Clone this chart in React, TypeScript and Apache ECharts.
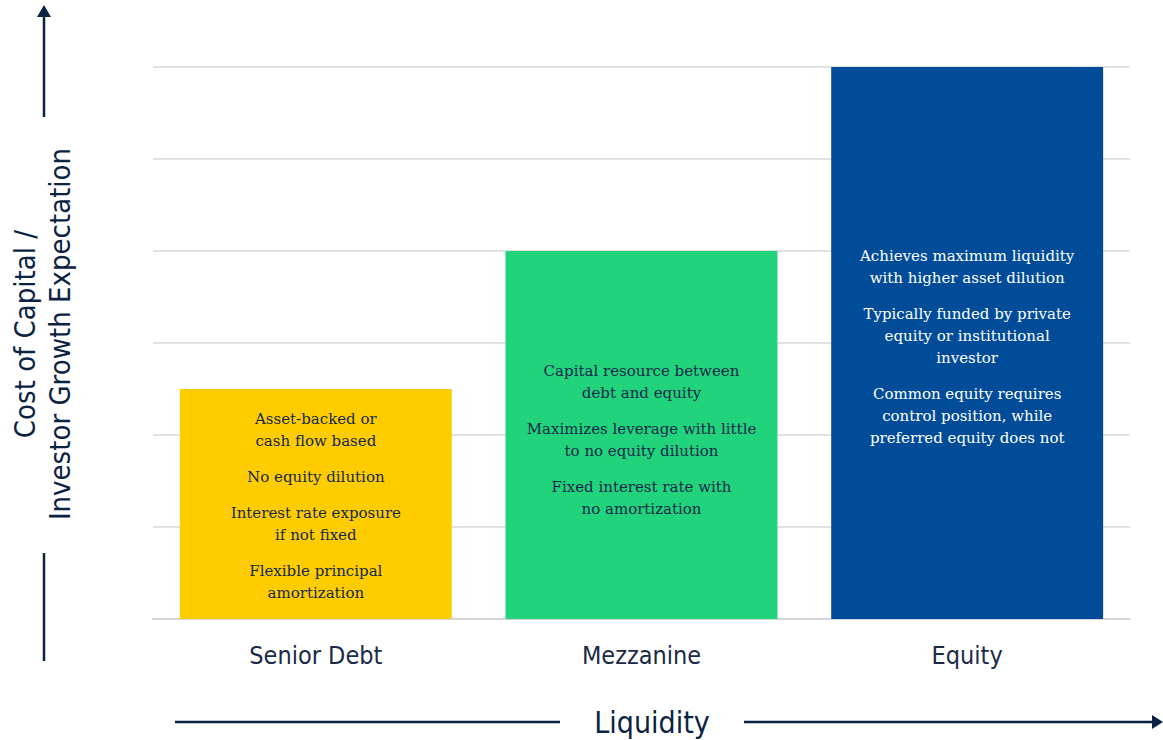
import React, { useEffect, useRef } from "react";
import * as echarts from "echarts";

const categories = ["Senior Debt", "Mezzanine", "Equity"];
const values = [2.5, 4, 6];
const barColors = ["#FFCC00", "#21D37B", "#004C99"];
const noteColors = ["#13294B", "#13294B", "#FFFFFF"];
const seniorNotes = ["Asset-backed or\ncash flow based", "No equity dilution", "Interest rate exposure\nif not fixed", "Flexible principal\namortization"];
const mezzNotes = ["Capital resource between\ndebt and equity", "Maximizes leverage with little\nto no equity dilution", "Fixed interest rate with\nno amortization"];
const equityNotes = ["Achieves maximum liquidity\nwith higher asset dilution", "Typically funded by private\nequity or institutional\ninvestor", "Common equity requires\ncontrol position, while\npreferred equity does not"];
const notes = [seniorNotes, mezzNotes, equityNotes];
const labelShift = [2, 5, 4];
const yTitle = "Cost of Capital /\nInvestor Growth Expectation";
const xTitle = "Liquidity";

const NAVY = "#0B2343";
const NARROW = '"Liberation Sans Narrow", "DejaVu Sans Condensed", "Roboto Condensed", Arial, sans-serif';
const SERIF = '"DejaVu Serif", "Liberation Serif", serif';

function buildRich(paras: string[]) {
  return paras
    .map((p) => p.split("\n").map((l) => `{t|${l}}`).join("\n"))
    .join("\n{g| }\n");
}

export default function App() {
  const ref = useRef<HTMLDivElement>(null);
  useEffect(() => {
    document.body.style.margin = "0";
    const chart = echarts.init(ref.current!, undefined, { renderer: "svg" });
    chart.setOption({
      animation: false,
      backgroundColor: "#FFFFFF",
      grid: { left: 153, right: 33, top: 67, bottom: 121 },
      xAxis: {
        type: "category",
        data: categories,
        axisLine: { show: true, lineStyle: { color: "#D6D6D6", width: 2 } },
        axisTick: { show: false },
        axisLabel: { margin: 24, fontSize: 25, color: "#1B2A47", fontFamily: NARROW },
      },
      yAxis: {
        type: "value",
        min: 0,
        max: 6,
        interval: 1,
        axisLabel: { show: false },
        axisLine: { show: false },
        axisTick: { show: false },
        splitLine: { lineStyle: { color: "#D9D9D9", width: 1.5 } },
      },
      series: [
        {
          type: "bar",
          barWidth: "83.5%",
          data: values.map((v, i) => ({
            value: v,
            itemStyle: { color: barColors[i] },
            label: {
              show: true,
              position: "inside",
              offset: [0, labelShift[i]],
              formatter: buildRich(notes[i]),
              rich: {
                t: { fontFamily: SERIF, fontSize: 15, lineHeight: 22, color: noteColors[i], align: "center" },
                g: { fontSize: 4, lineHeight: 14 },
              },
            },
          })),
        },
      ],
      graphic: [
        {
          type: "text",
          x: 42,
          y: 334,
          rotation: Math.PI / 2,
          style: {
            text: yTitle,
            fontFamily: NARROW,
            fontSize: 29,
            lineHeight: 35,
            fill: NAVY,
            align: "center",
            verticalAlign: "middle",
          },
        },
        { type: "line", shape: { x1: 44, y1: 117, x2: 44, y2: 14 }, style: { stroke: NAVY, lineWidth: 2.5 } },
        { type: "polygon", shape: { points: [[37, 17], [51, 17], [44, 5]] }, style: { fill: NAVY } },
        { type: "line", shape: { x1: 44, y1: 553, x2: 44, y2: 661 }, style: { stroke: NAVY, lineWidth: 2.5 } },
        {
          type: "text",
          x: 652,
          y: 722,
          style: {
            text: xTitle,
            fontFamily: NARROW,
            fontSize: 30,
            fill: NAVY,
            align: "center",
            verticalAlign: "middle",
          },
        },
        { type: "line", shape: { x1: 175, y1: 722, x2: 560, y2: 722 }, style: { stroke: NAVY, lineWidth: 2.5 } },
        { type: "line", shape: { x1: 744, y1: 722, x2: 1154, y2: 722 }, style: { stroke: NAVY, lineWidth: 2.5 } },
        { type: "polygon", shape: { points: [[1152, 715], [1152, 729], [1163, 722]] }, style: { fill: NAVY } },
      ],
    });
    return () => chart.dispose();
  }, []);
  return <div ref={ref} style={{ width: 1163, height: 740 }} />;
}
